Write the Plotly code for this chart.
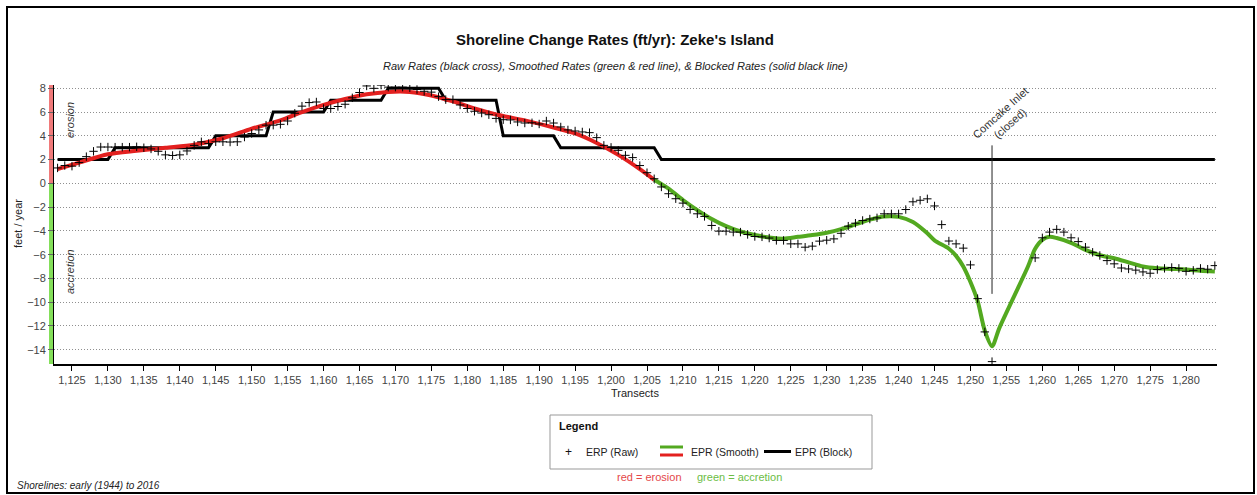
import plotly.graph_objects as go

# transects and raw end-point rates (ft/yr), None = no cross drawn
transects = list(range(1123, 1285))
raw_rate = [
    1.3, 1.5, 1.45, 1.75, 2.25, 2.7, 3.06, 3.06, 3.05, 3.05,      # 1123-1132
    3.05, 3.08, 3.0, 2.9, 2.7, 2.4, 2.35, 2.4, 2.73, 3.2,         # 1133-1142
    3.5, 3.35, 3.5, 3.5, 3.48, 3.5, 3.9, 4.2, 4.5, 4.9,           # 1143-1152
    4.9, 4.97, 5.25, 5.9, 6.5, 6.8, 6.85, 6.3, 6.3, 6.47,         # 1153-1162
    6.66, 7.2, 7.65, 8.2, 8.0, 8.27, 8.1, 8.1, 8.1, 8.05,         # 1163-1172
    7.9, 7.75, 7.68, 7.3, 7.05, 7.05, 6.6, 6.3, 6.07, 5.92,       # 1173-1182
    5.78, 5.47, 5.36, 5.34, 5.17, 5.08, 5.1, 5.0, 5.25, 5.08,     # 1183-1192
    4.75, 4.5, 4.41, 4.33, 4.27, 3.85, 3.2, 3.03, 2.78, 2.36,     # 1193-1202
    2.17, 1.5, 0.9, 0.39, -0.3, -0.87, -1.29, -1.66, -2.19, -2.56,  # 1203-1212
    -2.78, -3.54, -4.02, -4.02, -4.1, -4.1, -4.3, -4.47, -4.5, -4.6,  # 1213-1222
    -4.8, -4.8, -5.09, -5.09, -5.37, -5.28, -4.86, -4.78, -4.67, -4.2,  # 1223-1232
    -3.6, -3.35, -3.12, -3.0, -2.9, -2.56, -2.56, -2.56, -2.2, -1.55,  # 1233-1242
    -1.42, -1.3, -1.9, -3.47, -4.85, -5.09, -5.45, -6.86, -9.7, -12.5,  # 1243-1252
    -15.0, None, None, None, None, None, -6.27, -4.58, -4.1, -3.87,   # 1253-1262
    -4.1, -4.58, -4.9, -5.37, -5.8, -6.07, -6.5, -6.77, -7.12, -7.2,  # 1263-1272
    -7.3, -7.45, -7.56, -7.25, -7.15, -7.08, -7.15, -7.4, -7.32, -7.15,  # 1273-1282
    -7.22, -6.92,                                                  # 1283-1284
]

# smoothed rates
smooth_t = [1123, 1126, 1130, 1134, 1138, 1142, 1146, 1150, 1154, 1157, 1160,
            1163, 1166, 1169, 1172, 1175, 1178, 1181, 1184, 1188, 1192, 1195,
            1198, 1201, 1204, 1206, 1208, 1210, 1212, 1214, 1216, 1218, 1220,
            1222, 1224, 1226, 1228, 1230, 1232, 1234, 1236, 1238, 1240, 1242,
            1244, 1245, 1247, 1248, 1249, 1250, 1251, 1252, 1253, 1254, 1256,
            1258, 1259, 1260, 1261, 1262, 1264, 1266, 1268, 1270, 1272, 1274,
            1276, 1278, 1280, 1282, 1284]
smooth_v = [1.2, 1.75, 2.45, 2.75, 3.0, 3.25, 3.8, 4.6, 5.3, 6.0, 6.6,
            7.1, 7.5, 7.7, 7.7, 7.4, 6.9, 6.3, 5.8, 5.3, 4.7, 4.2,
            3.4, 2.4, 1.2, 0.3, -0.45, -1.4, -2.25, -3.0, -3.6, -4.05, -4.35,
            -4.55, -4.65, -4.5, -4.35, -4.15, -3.85, -3.45, -3.05, -2.78, -2.82, -3.25,
            -4.2, -4.8, -5.5, -6.1, -7.0, -8.3, -9.9, -12.4, -13.7, -12.2, -9.6,
            -7.0, -5.5, -4.75, -4.5, -4.6, -5.0, -5.6, -6.05, -6.3, -6.65, -7.0,
            -7.15, -7.2, -7.25, -7.35, -7.42]

# blocked rates
block_t = [1123, 1130, 1131, 1144, 1145, 1152, 1153, 1160, 1161, 1168,
           1169, 1176, 1177, 1184, 1185, 1192, 1193, 1206, 1207, 1284]
block_v = [2, 2, 3, 3, 4, 4, 6, 6, 7, 7, 8, 8, 7, 7, 4, 4, 3, 3, 2, 2]

xticks = list(range(1125, 1285, 5))
yticks = list(range(-14, 10, 2))

RED = "#e3201f"
GREEN = "#53a920"
FONT = "Arial, Liberation Sans, sans-serif"

# plot area in pixels: x 54..1217, y 85..364
def fx(px):
    return (px - 54) / 1163

def fy(py):
    return (364 - py) / 279

split = smooth_t.index(1206)

fig = go.Figure()
fig.add_trace(go.Scatter(x=block_t, y=block_v, mode="lines",
                         line=dict(color="black", width=3), showlegend=False))
fig.add_trace(go.Scatter(x=smooth_t[:split + 1], y=smooth_v[:split + 1], mode="lines",
                         line=dict(color=RED, width=4, shape="spline", smoothing=0.8),
                         showlegend=False))
fig.add_trace(go.Scatter(x=smooth_t[split:], y=smooth_v[split:], mode="lines",
                         line=dict(color=GREEN, width=4, shape="spline", smoothing=0.8),
                         showlegend=False))
fig.add_trace(go.Scatter(x=transects, y=raw_rate, mode="markers",
                         marker=dict(symbol="cross-thin", size=6,
                                     line=dict(color="black", width=1)),
                         showlegend=False))

shapes = [
    # erosion / accretion bar
    dict(type="rect", xref="paper", yref="y", x0=fx(49), x1=fx(54), y0=0, y1=8.28,
         fillcolor="#f07a7a", line=dict(width=0), layer="below"),
    dict(type="rect", xref="paper", yref="y", x0=fx(49), x1=fx(54), y0=-15.2, y1=0,
         fillcolor="#84df5a", line=dict(width=0), layer="below"),
    # inlet marker
    dict(type="line", xref="x", yref="y", x0=1253, x1=1253, y0=3.2, y1=-9.3,
         line=dict(color="#222", width=1)),
    # frame
    dict(type="rect", xref="paper", yref="paper", x0=fx(7), x1=fx(1254), y0=fy(7), y1=fy(493),
         line=dict(color="black", width=2)),
    # legend box
    dict(type="rect", xref="paper", yref="paper", x0=fx(550), x1=fx(872), y0=fy(415), y1=fy(469),
         line=dict(color="#999", width=1), fillcolor="white"),
    dict(type="line", xref="paper", yref="paper", x0=fx(660), x1=fx(683), y0=fy(447), y1=fy(447),
         line=dict(color=GREEN, width=3)),
    dict(type="line", xref="paper", yref="paper", x0=fx(660), x1=fx(683), y0=fy(455), y1=fy(455),
         line=dict(color=RED, width=3)),
    dict(type="line", xref="paper", yref="paper", x0=fx(764), x1=fx(791), y0=fy(451.5), y1=fy(451.5),
         line=dict(color="black", width=3)),
]

def note(text, px, py, size=11, color="#222", xanchor="left", angle=0, bold=False, italic=False):
    if bold:
        text = "<b>" + text + "</b>"
    if italic:
        text = "<i>" + text + "</i>"
    return dict(text=text, xref="paper", yref="paper", x=fx(px), y=fy(py),
                xanchor=xanchor, yanchor="middle", showarrow=False, textangle=angle,
                font=dict(family=FONT, size=size, color=color))

annotations = [
    note("Shoreline Change Rates (ft/yr): Zeke's Island", 615, 40, size=15, color="#111",
         xanchor="center", bold=True),
    note("Raw Rates (black cross), Smoothed Rates (green &amp; red line), &amp; Blocked Rates (solid black line)",
         615, 66, size=11, xanchor="center", italic=True),
    note("feet / year", 18, 224, size=11, xanchor="center", angle=-90),
    note("erosion", 70, 120, size=11, color="#333", xanchor="center", angle=-90, italic=True),
    note("accretion", 70, 272, size=11, color="#333", xanchor="center", angle=-90, italic=True),
    note("Transects", 635, 393, size=11, xanchor="center"),
    note("Legend", 557, 426, size=11, color="#111", bold=True),
    note("+", 563, 452, size=12, color="#111"),
    note("ERP (Raw)", 584, 452, size=10.5),
    note("EPR (Smooth)", 689, 452, size=10.5),
    note("EPR (Block)", 793, 452, size=10.5),
    note("red = erosion", 615, 477, size=11, color="#e4484a"),
    note("green = accretion", 695, 477, size=11, color="#6cbd45"),
    note("Shorelines: early (1944) to 2016", 15, 485, size=10, color="#222", italic=True),
    dict(text="Comcake Inlet<br>(closed)", x=1254.8, y=5.5, xref="x", yref="y",
         showarrow=False, textangle=-42, xanchor="center", yanchor="middle",
         font=dict(family=FONT, size=11, color="#333")),
]

fig.update_layout(
    width=1257, height=495,
    margin=dict(l=54, r=40, t=85, b=131),
    paper_bgcolor="white", plot_bgcolor="white",
    font=dict(family=FONT, size=11, color="#444"),
    shapes=shapes, annotations=annotations,
    showlegend=False,
)
fig.update_xaxes(range=[1122.5, 1284.3], tickvals=xticks, tickformat=",d",
                 showgrid=False, zeroline=False, showline=True, linecolor="black", linewidth=1.5,
                 ticks="outside", ticklen=5, tickcolor="black",
                 tickfont=dict(size=11, color="#444"))
fig.update_yaxes(range=[-15.2, 8.28], tickvals=yticks,
                 showgrid=True, gridcolor="#8f8f8f", griddash="1px,2px", gridwidth=1,
                 zeroline=False, showline=True, linecolor="black", linewidth=1,
                 ticks="outside", ticklen=5, tickcolor="#666",
                 tickfont=dict(size=11, color="#444"))

fig.write_html("out.html", config={"displayModeBar": False},
               post_script="document.body.style.margin='0px';")
